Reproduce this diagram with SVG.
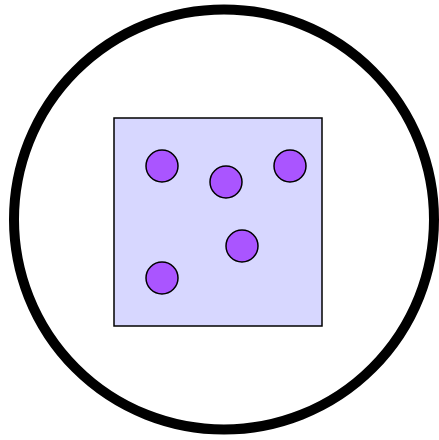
<svg xmlns="http://www.w3.org/2000/svg" width="439" height="440" viewBox="0 0 439 440">
<style>
.dot{fill:#aa55ff;stroke:#000;stroke-width:1.5}
</style>
<rect width="439" height="440" fill="#fff"/>
<g id="outer"><circle cx="224" cy="219.5" r="210" fill="#fff" stroke="#000" stroke-width="10"/></g>
<g id="box"><rect x="114" y="118" width="208" height="208" fill="#d7d7ff" stroke="#000" stroke-width="1.5"/></g>
<g id="p1"><circle class="dot" cx="162" cy="166" r="16"/></g>
<g id="p2"><circle class="dot" cx="226" cy="182" r="16"/></g>
<g id="p3"><circle class="dot" cx="290" cy="166" r="16"/></g>
<g id="p4"><circle class="dot" cx="242" cy="246" r="16"/></g>
<g id="p5"><circle class="dot" cx="162" cy="278" r="16"/></g>
<g id="connectors"/>
</svg>
